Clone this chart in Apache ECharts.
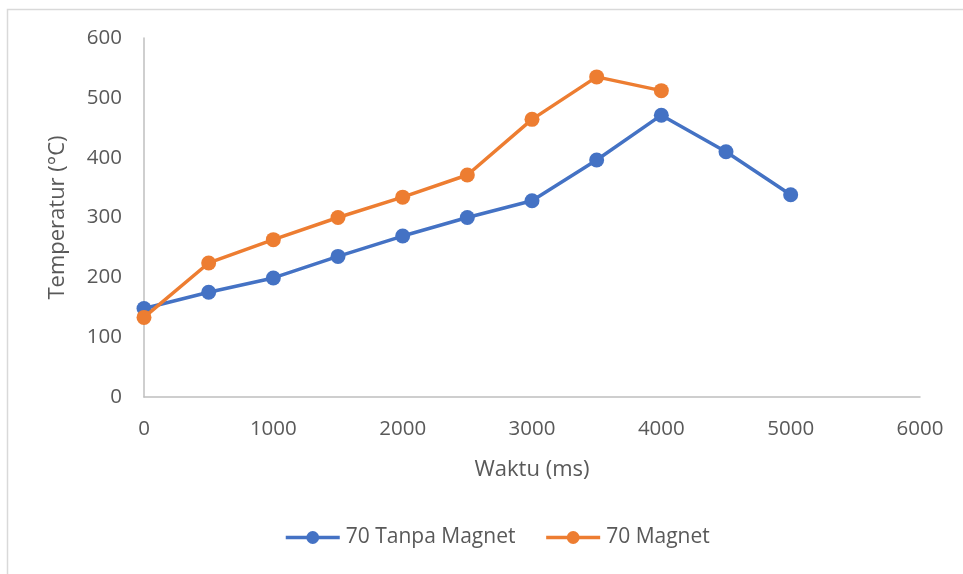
<!DOCTYPE html>
<html>
<head>
<meta charset="utf-8">
<script src="https://cdn.jsdelivr.net/npm/echarts@6/dist/echarts.min.js"></script>
<style>
  html, body { margin: 0; padding: 0; background: #ffffff; }
  #chart { width: 963px; height: 574px; }
</style>
</head>
<body>
<div id="chart"></div>
<script>
// Waktu (ms) against temperature for the two runs
const waktuTanpa = [0, 500, 1000, 1500, 2000, 2500, 3000, 3500, 4000, 4500, 5000];
const suhuTanpa = [148, 175, 199, 235, 269, 300, 328, 396, 471, 410, 338];

const waktuMagnet = [0, 500, 1000, 1500, 2000, 2500, 3000, 3500, 4000];
const suhuMagnet = [133, 224, 263, 300, 334, 371, 464, 535, 512];

const seriesNames = ['70 Tanpa Magnet', '70 Magnet'];
const seriesColors = ['#4472C4', '#ED7D31'];
const xTicks = { min: 0, max: 6000, interval: 1000 };
const yTicks = { min: 0, max: 600, interval: 100 };

const pairs = (xs, ys) => xs.map((x, i) => [x, ys[i]]);

const FONT = '"Open Sans", sans-serif';
const TEXT = '#595959';
const AXIS = '#bfbfbf';

const chart = echarts.init(document.getElementById('chart'), null, { renderer: 'canvas' });

chart.setOption({
  backgroundColor: '#ffffff',
  animation: false,
  textStyle: { fontFamily: FONT },
  graphic: [{
    type: 'rect',
    silent: true,
    z: -10,
    shape: { x: 7.5, y: 9.5, width: 1000, height: 600 },
    style: { fill: 'none', stroke: '#d9d9d9', lineWidth: 1.5 }
  }],
  grid: { left: 144, right: 43, top: 38, bottom: 177, containLabel: false },
  legend: {
    data: seriesNames.map((n, i) => ({
      name: n,
      lineStyle: { color: seriesColors[i], width: 3.5 },
      itemStyle: { color: seriesColors[i] }
    })),
    bottom: 21,
    left: 279,
    itemWidth: 54,
    itemHeight: 16,
    itemGap: 29,
    textStyle: { color: TEXT, fontSize: 21, fontFamily: FONT, padding: [0, 0, 0, 1] }
  },
  xAxis: {
    type: 'value',
    min: xTicks.min, max: xTicks.max, interval: xTicks.interval,
    name: 'Waktu (ms)',
    nameLocation: 'middle',
    nameGap: 62,
    nameTextStyle: { color: TEXT, fontSize: 22, fontFamily: FONT },
    axisLine: { show: true, lineStyle: { color: AXIS, width: 1.5 } },
    axisTick: { show: false },
    splitLine: { show: false },
    axisLabel: {
      color: TEXT, fontSize: 20.5, fontFamily: FONT, margin: 22,
      formatter: v => String(v)
    }
  },
  yAxis: {
    type: 'value',
    min: yTicks.min, max: yTicks.max, interval: yTicks.interval,
    name: 'Temperatur (°C)',
    nameLocation: 'middle',
    nameRotate: 90,
    nameGap: 75,
    nameTextStyle: { color: TEXT, fontSize: 22, fontFamily: FONT },
    axisLine: { show: true, lineStyle: { color: AXIS, width: 1.5 } },
    axisTick: { show: false },
    splitLine: { show: false },
    axisLabel: { color: TEXT, fontSize: 20.5, fontFamily: FONT, margin: 22 }
  },
  series: [
    {
      name: seriesNames[0],
      type: 'line',
      data: pairs(waktuTanpa, suhuTanpa),
      symbol: 'circle',
      symbolSize: 15,
      lineStyle: { color: seriesColors[0], width: 3.5 },
      itemStyle: { color: seriesColors[0] },
      z: 2
    },
    {
      name: seriesNames[1],
      type: 'line',
      data: pairs(waktuMagnet, suhuMagnet),
      symbol: 'circle',
      symbolSize: 15,
      lineStyle: { color: seriesColors[1], width: 3.5 },
      itemStyle: { color: seriesColors[1] },
      z: 3
    }
  ]
});
</script>
</body>
</html>
